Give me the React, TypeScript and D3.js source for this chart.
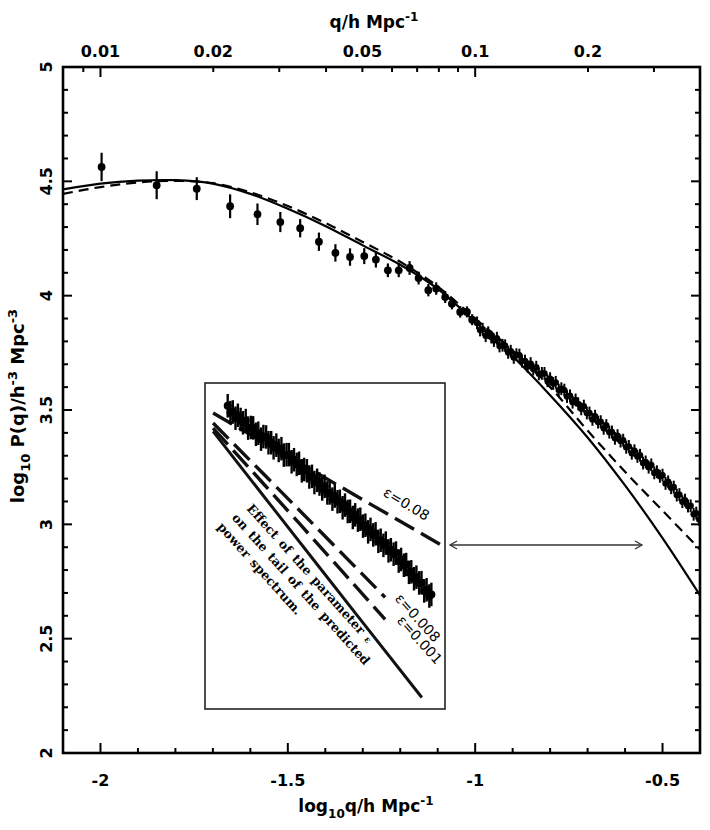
import * as d3 from 'd3'

// sparse low-q points: [log10 q, log10 P, error]
const sparsePts: [number, number, number][] = [
  [-1.997, 4.563, 0.062], [-1.85, 4.483, 0.061], [-1.743, 4.468, 0.05], [-1.654, 4.391, 0.052],
  [-1.581, 4.356, 0.047], [-1.52, 4.322, 0.044], [-1.467, 4.295, 0.04], [-1.417, 4.236, 0.04],
  [-1.373, 4.187, 0.038], [-1.334, 4.169, 0.038], [-1.296, 4.173, 0.035], [-1.265, 4.158, 0.035],
  [-1.233, 4.111, 0.03], [-1.204, 4.111, 0.03], [-1.175, 4.121, 0.03], [-1.151, 4.077, 0.028],
  [-1.125, 4.024, 0.027], [-1.104, 4.031, 0.027], [-1.08, 3.994, 0.026], [-1.062, 3.965, 0.025],
  [-1.04, 3.929, 0.025], [-1.022, 3.929, 0.024], [-1.008, 3.895, 0.024]
]

// dense tail points: [log10 q, log10 P]
const tailPts: [number, number][] = [
  [-0.995, 3.881], [-0.987, 3.85], [-0.98, 3.853], [-0.972, 3.825], [-0.965, 3.838], [-0.957, 3.819],
  [-0.95, 3.804], [-0.942, 3.814], [-0.935, 3.78], [-0.927, 3.783], [-0.92, 3.781], [-0.912, 3.752],
  [-0.905, 3.757], [-0.897, 3.73], [-0.89, 3.742], [-0.882, 3.74], [-0.875, 3.714], [-0.867, 3.714],
  [-0.86, 3.691], [-0.852, 3.703], [-0.845, 3.679], [-0.837, 3.687], [-0.83, 3.658], [-0.822, 3.66],
  [-0.815, 3.66], [-0.807, 3.628], [-0.8, 3.637], [-0.792, 3.616], [-0.785, 3.621], [-0.777, 3.587],
  [-0.77, 3.593], [-0.762, 3.587], [-0.755, 3.559], [-0.747, 3.562], [-0.74, 3.534], [-0.732, 3.544],
  [-0.725, 3.527], [-0.717, 3.505], [-0.71, 3.517], [-0.702, 3.487], [-0.695, 3.487], [-0.687, 3.459],
  [-0.68, 3.473], [-0.672, 3.447], [-0.665, 3.449], [-0.657, 3.42], [-0.65, 3.432], [-0.642, 3.403],
  [-0.635, 3.404], [-0.627, 3.376], [-0.62, 3.388], [-0.612, 3.364], [-0.605, 3.368], [-0.597, 3.337],
  [-0.59, 3.341], [-0.582, 3.311], [-0.575, 3.322], [-0.567, 3.297], [-0.56, 3.302], [-0.552, 3.268],
  [-0.545, 3.273], [-0.537, 3.25], [-0.53, 3.26], [-0.522, 3.225], [-0.515, 3.23], [-0.507, 3.21],
  [-0.5, 3.215], [-0.492, 3.179], [-0.485, 3.186], [-0.477, 3.16], [-0.47, 3.163], [-0.462, 3.128],
  [-0.455, 3.13], [-0.447, 3.099], [-0.44, 3.106], [-0.432, 3.08], [-0.425, 3.081], [-0.417, 3.044],
  [-0.41, 3.049], [-0.402, 3.021], [-0.396, 3.028]
]
const tailErr = 0.028

// model curves
const curveQ = [-2.1, -2.0, -1.9, -1.8, -1.7, -1.6, -1.5, -1.4, -1.3, -1.2, -1.1, -1.0, -0.9, -0.8, -0.7, -0.6, -0.5, -0.4]
const solidP = [4.465, 4.49, 4.503, 4.505, 4.49, 4.445, 4.38, 4.305, 4.22, 4.135, 4.03, 3.885, 3.735, 3.565, 3.38, 3.17, 2.94, 2.69]
const dashedP = [4.445, 4.475, 4.495, 4.502, 4.492, 4.452, 4.392, 4.318, 4.235, 4.148, 4.04, 3.9, 3.76, 3.6, 3.41, 3.23, 3.06, 2.89]

// inset lines (same units as the tail, inset scale)
const insetEps08: [number, number][] = [[-1.038, 3.848], [-0.714, 3.56], [-0.36, 3.245]]
const insetEps008: [number, number][] = [[-1.038, 3.803], [-0.785, 3.41], [-0.532, 3.015]]
const insetEps001: [number, number][] = [[-1.038, 3.78], [-0.785, 3.35], [-0.532, 2.915]]
const insetSolid: [number, number][] = [[-1.038, 3.765], [-0.73, 3.16], [-0.424, 2.562]]

const xTicks = [-2, -1.5, -1, -0.5]
const yTicks = [2, 2.5, 3, 3.5, 4, 4.5, 5]
const topLabels = [0.01, 0.02, 0.05, 0.1, 0.2]
const topTicks = [0.009, 0.01, 0.02, 0.03, 0.04, 0.05, 0.06, 0.07, 0.08, 0.09, 0.1, 0.2, 0.3]

const FONT = 'DejaVu Sans, Verdana, sans-serif'

export default function App() {
  const x = d3.scaleLinear().domain([-2.1, -0.4]).range([63, 700])
  const y = d3.scaleLinear().domain([2, 5]).range([753, 67])
  const ix = d3.scaleLinear().domain([-1.0, -0.4]).range([226, 430])
  const iy = d3.scaleLinear().domain([3.03, 3.88]).range([594, 406])

  const line = d3.line<number>().x((_, i) => x(curveQ[i])).y(d => y(d)).curve(d3.curveCatmullRom)
  const iline = d3.line<[number, number]>().x(d => ix(d[0])).y(d => iy(d[1])).curve(d3.curveCatmullRom)

  const [L, R] = x.range()
  const [B, T] = y.range()
  const minorX = d3.range(-2.0, -0.39, 0.1)
  const minorY = d3.range(2.1, 4.95, 0.1)

  return (
    <svg width={710} height={830} style={{ position: 'absolute', left: 0, top: 0, background: '#fff' }}
      fontFamily={FONT}>
      <defs>
        <clipPath id="plot"><rect x={L} y={T} width={R - L} height={B - T} /></clipPath>
        <clipPath id="inset"><rect x={205} y={383} width={240} height={326} /></clipPath>
      </defs>

      {/* model curves */}
      <g clipPath="url(#plot)" fill="none" stroke="#000">
        <path d={line(solidP) || ''} strokeWidth={2.2} />
        <path d={line(dashedP) || ''} strokeWidth={2.2} strokeDasharray="10 6" />
      </g>

      {/* data */}
      <g clipPath="url(#plot)">
        {sparsePts.map((d, i) => (
          <g key={'s' + i}>
            <line x1={x(d[0])} x2={x(d[0])} y1={y(d[1] - d[2])} y2={y(d[1] + d[2])} stroke="#000" strokeWidth={2.2} />
            <circle cx={x(d[0])} cy={y(d[1])} r={3.9} fill="#000" />
          </g>
        ))}
        {tailPts.map((d, i) => (
          <g key={'t' + i}>
            <line x1={x(d[0])} x2={x(d[0])} y1={y(d[1] - tailErr)} y2={y(d[1] + tailErr)} stroke="#000" strokeWidth={2} />
            <circle cx={x(d[0])} cy={y(d[1])} r={3.2} fill="#000" />
          </g>
        ))}
      </g>

      {/* frame */}
      <rect x={L} y={T} width={R - L} height={B - T} fill="none" stroke="#000" strokeWidth={2.6} />

      {/* bottom ticks */}
      {minorX.map(v => {
        const major = xTicks.some(t => Math.abs(t - v) < 1e-6)
        return <line key={'bx' + v} x1={x(v)} x2={x(v)} y1={B} y2={B - (major ? 10 : 5)} stroke="#000" strokeWidth={2} />
      })}
      {xTicks.map(v => (
        <text key={'xl' + v} x={x(v)} y={786} textAnchor="middle" fontSize={16} fontWeight="bold">{v}</text>
      ))}

      {/* top ticks */}
      {topTicks.map(q => {
        const major = q === 0.01 || q === 0.1
        return <line key={'tx' + q} x1={x(Math.log10(q))} x2={x(Math.log10(q))} y1={T} y2={T + (major ? 10 : 5)} stroke="#000" strokeWidth={2} />
      })}
      {topLabels.map(q => (
        <text key={'tl' + q} x={x(Math.log10(q))} y={57} textAnchor="middle" fontSize={16} fontWeight="bold">{q}</text>
      ))}

      {/* left / right ticks */}
      {minorY.map(v => {
        const major = yTicks.some(t => Math.abs(t - v) < 1e-6)
        const len = major ? 9 : 5
        return (
          <g key={'y' + v}>
            <line x1={L} x2={L + len} y1={y(v)} y2={y(v)} stroke="#000" strokeWidth={2} />
            <line x1={R} x2={R - len} y1={y(v)} y2={y(v)} stroke="#000" strokeWidth={2} />
          </g>
        )
      })}
      {yTicks.map(v => (
        <text key={'yl' + v} transform={`translate(52,${y(v)}) rotate(-90)`} textAnchor="middle" fontSize={16} fontWeight="bold">{v}</text>
      ))}

      {/* axis titles */}
      <text x={374} y={28} textAnchor="middle" fontSize={17} fontWeight="bold">
        q/h Mpc<tspan fontSize={12} dy={-7}>-1</tspan>
      </text>
      <text x={366} y={812} textAnchor="middle" fontSize={17} fontWeight="bold">
        log<tspan fontSize={12} dy={6}>10</tspan><tspan dy={-6}>q/h Mpc</tspan><tspan fontSize={12} dy={-7}>-1</tspan>
      </text>
      <text transform="translate(24,406) rotate(-90)" textAnchor="middle" fontSize={18} fontWeight="bold">
        log<tspan fontSize={13} dy={6}>10</tspan><tspan dy={-6}> P(q)/h</tspan><tspan fontSize={13} dy={-7}>-3</tspan>
        <tspan dy={7}> Mpc</tspan><tspan fontSize={13} dy={-7}>-3</tspan>
      </text>

      {/* inset */}
      <rect x={205} y={383} width={240} height={326} fill="#fff" stroke="#222" strokeWidth={1.6} />
      <g clipPath="url(#inset)">
        <g fill="none" stroke="#111">
          <path d={iline(insetEps08) || ''} strokeWidth={3.4} strokeDasharray="22 8" />
          <path d={iline(insetEps008) || ''} strokeWidth={3.4} strokeDasharray="22 8" />
          <path d={iline(insetEps001) || ''} strokeWidth={3.4} strokeDasharray="22 8" />
          <path d={iline(insetSolid) || ''} strokeWidth={3} />
        </g>
        {tailPts.map((d, i) => (
          <g key={'it' + i}>
            <line x1={ix(d[0])} x2={ix(d[0])} y1={iy(d[1] - tailErr * 1.9)} y2={iy(d[1] + tailErr * 1.9)} stroke="#000" strokeWidth={2.4} />
            <circle cx={ix(d[0])} cy={iy(d[1])} r={4} fill="#000" />
          </g>
        ))}
        <text transform="translate(404,508) rotate(31)" textAnchor="middle" fontSize={14} fill="#000">ε=0.08</text>
        <text transform="translate(414,621) rotate(48)" textAnchor="middle" fontSize={14} fill="#000">ε=0.008</text>
        <text transform="translate(416,643) rotate(48)" textAnchor="middle" fontSize={14} fill="#000">ε=0.001</text>
        <text transform="translate(246,509) rotate(48)" fontSize={12.5} fontWeight="bold" fontFamily="DejaVu Serif, serif" fill="#000" wordSpacing={2}>
          <tspan x={0} dy={0}>Effect of the parameter <tspan fontSize={9}>ε</tspan></tspan>
          <tspan x={-3} dy={17}>on the tail of the predicted</tspan>
          <tspan x={-6} dy={17}>power spectrum.</tspan>
        </text>
      </g>

      {/* arrow */}
      <g stroke="#333" strokeWidth={1.3} fill="none">
        <line x1={450} x2={642} y1={545} y2={545} />
        <path d="M457,541 L450,545 L457,549" />
        <path d="M635,541 L642,545 L635,549" />
      </g>
    </svg>
  )
}
